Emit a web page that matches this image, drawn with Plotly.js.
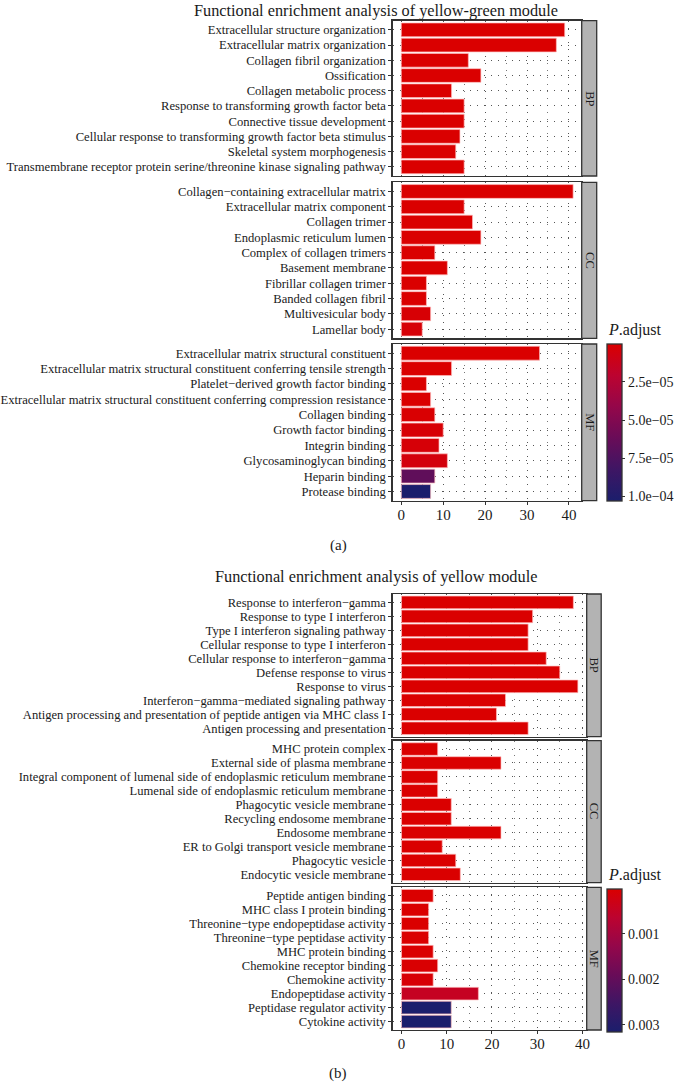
<!DOCTYPE html>
<html>
<head>
<meta charset="utf-8">
<script src="https://cdn.plot.ly/plotly-3.0.1.min.js"></script>
<style>html,body{margin:0;padding:0;background:#fff;}#chart{width:682px;height:1082px;}</style>
</head>
<body>
<div id="chart"></div>
<script>
// ---------------- DATA ----------------
const titleA = "Functional enrichment analysis of yellow-green module";
const titleB = "Functional enrichment analysis of yellow module";
const ontologies = ["BP", "CC", "MF"];
const captions = ["(a)", "(b)"];

const termsA_BP = ["Extracellular structure organization","Extracellular matrix organization","Collagen fibril organization","Ossification","Collagen metabolic process","Response to transforming growth factor beta","Connective tissue development","Cellular response to transforming growth factor beta stimulus","Skeletal system morphogenesis","Transmembrane receptor protein serine/threonine kinase signaling pathway"];
const countA_BP = [39, 37, 16, 19, 12, 15, 15, 14, 13, 15];
const padjA_BP = [1e-20, 1e-19, 1e-12, 1e-11, 1e-10, 1e-9, 1e-9, 1e-8, 1e-8, 2e-8];

const termsA_CC = ["Collagen−containing extracellular matrix","Extracellular matrix component","Collagen trimer","Endoplasmic reticulum lumen","Complex of collagen trimers","Basement membrane","Fibrillar collagen trimer","Banded collagen fibril","Multivesicular body","Lamellar body"];
const countA_CC = [41, 15, 17, 19, 8, 11, 6, 6, 7, 5];
const padjA_CC = [1e-25, 1e-14, 1e-14, 1e-12, 1e-9, 1e-8, 1e-7, 1e-7, 2e-6, 3e-6];

const termsA_MF = ["Extracellular matrix structural constituent","Extracellular matrix structural constituent conferring tensile strength","Platelet−derived growth factor binding","Extracellular matrix structural constituent conferring compression resistance","Collagen binding","Growth factor binding","Integrin binding","Glycosaminoglycan binding","Heparin binding","Protease binding"];
const countA_MF = [33, 12, 6, 7, 8, 10, 9, 11, 8, 7];
const padjA_MF = [1e-22, 1e-12, 1e-7, 1e-7, 1e-6, 2e-6, 3e-6, 5e-6, 6.6e-5, 1.03e-4];

const termsB_BP = ["Response to interferon−gamma","Response to type I interferon","Type I interferon signaling pathway","Cellular response to type I interferon","Cellular response to interferon−gamma","Defense response to virus","Response to virus","Interferon−gamma−mediated signaling pathway","Antigen processing and presentation of peptide antigen via MHC class I","Antigen processing and presentation"];
const countB_BP = [38, 29, 28, 28, 32, 35, 39, 23, 21, 28];
const padjB_BP = [1e-30, 1e-28, 1e-28, 1e-28, 1e-27, 1e-26, 1e-26, 1e-22, 1e-22, 1e-21];

const termsB_CC = ["MHC protein complex","External side of plasma membrane","Integral component of lumenal side of endoplasmic reticulum membrane","Lumenal side of endoplasmic reticulum membrane","Phagocytic vesicle membrane","Recycling endosome membrane","Endosome membrane","ER to Golgi transport vesicle membrane","Phagocytic vesicle","Endocytic vesicle membrane"];
const countB_CC = [8, 22, 8, 8, 11, 11, 22, 9, 12, 13];
const padjB_CC = [1e-9, 1e-8, 1e-8, 1e-8, 1e-7, 1e-7, 1e-6, 1e-6, 2e-6, 3e-6];

const termsB_MF = ["Peptide antigen binding","MHC class I protein binding","Threonine−type endopeptidase activity","Threonine−type peptidase activity","MHC protein binding","Chemokine receptor binding","Chemokine activity","Endopeptidase activity","Peptidase regulator activity","Cytokine activity"];
const countB_MF = [7, 6, 6, 6, 7, 8, 7, 17, 11, 11];
const padjB_MF = [1e-7, 1e-6, 2e-6, 5e-6, 1e-5, 3e-5, 6e-5, 4.5e-4, 3.15e-3, 3.15e-3];

const cbTicksA = [2.5e-5, 5.0e-5, 7.5e-5, 1.0e-4];
const cbTextA = ["2.5e−05", "5.0e−05", "7.5e−05", "1.0e−04"];
const cbMaxA = 1.03e-4;
const cbTicksB = [0.001, 0.002, 0.003];
const cbTextB = ["0.001", "0.002", "0.003"];
const cbMaxB = 3.15e-3;
const xTicks = [0, 10, 20, 30, 40];

// ---------------- LAYOUT HELPERS ----------------
const W = 682, H = 1082;
const FONT = "Liberation Serif, 'Times New Roman', serif";
const px = v => v / W;
const py = v => 1 - v / H;

const colorscale = [
  [0.0, "#1B1E6C"], [0.2, "#3E1664"], [0.4, "#690C58"],
  [0.6, "#94074A"], [0.8, "#BC0330"], [1.0, "#DA0000"]
];

const charts = [
  { panels: [[termsA_BP, countA_BP, padjA_BP], [termsA_CC, countA_CC, padjA_CC], [termsA_MF, countA_MF, padjA_MF]],
    ytops: [[20.7, 176], [182.3, 338.3], [344, 500.7]], xl: 392.7, xr: 581.7, strip: 15,
    xrange: [-2.05, 43.05], title: titleA, titleX: 376, titleY: 10,
    cb: { x: 607.3, top: 344, bot: 500.7, ticks: cbTicksA, text: cbTextA, max: cbMaxA }, cbTitleY: 330,
    caption: captions[0], capY: 545, coloraxis: "coloraxis" },
  { panels: [[termsB_BP, countB_BP, padjB_BP], [termsB_CC, countB_CC, padjB_CC], [termsB_MF, countB_MF, padjB_MF]],
    ytops: [[594, 736.7], [740.7, 882.7], [887.3, 1030]], xl: 392.7, xr: 586.7, strip: 14.5,
    xrange: [-1.95, 40.95], title: titleB, titleX: 376, titleY: 576,
    cb: { x: 606.7, top: 888.3, bot: 1031.7, ticks: cbTicksB, text: cbTextB, max: cbMaxB }, cbTitleY: 875,
    caption: captions[1], capY: 1073, coloraxis: "coloraxis2" }
];

const data = [];
const layout = {
  width: W, height: H, margin: { l: 0, r: 0, t: 0, b: 0 },
  paper_bgcolor: "#fff", plot_bgcolor: "#fff",
  showlegend: false, bargap: 0.1,
  font: { family: FONT, color: "#1a1a1a" },
  shapes: [], annotations: []
};

let n = 0;
charts.forEach((c, ci) => {
  c.panels.forEach((p, pi) => {
    n++;
    const sfx = n === 1 ? "" : String(n);
    const [cats, vals, padj] = p;
    data.push({
      type: "bar", orientation: "h",
      x: vals, y: cats,
      xaxis: "x" + sfx, yaxis: "y" + sfx,
      marker: { color: padj.map(v => -v), coloraxis: c.coloraxis,
                line: { color: "rgba(255,190,190,0.85)", width: 0.8 } },
      hoverinfo: "x+y"
    });
    const [top, bot] = c.ytops[pi];
    const isBottom = pi === 2;
    layout["xaxis" + sfx] = {
      domain: [px(c.xl), px(c.xr)], anchor: "y" + sfx,
      range: c.xrange, autorange: false,
      tickmode: "array", tickvals: xTicks, showticklabels: isBottom,
      ticks: isBottom ? "outside" : "", ticklen: 3, tickcolor: "#333",
      ticklabelstandoff: -3,
      tickfont: { family: FONT, size: 15, color: "#1a1a1a" },
      showline: true, mirror: true, linecolor: "#333", linewidth: 1.3,
      showgrid: true, gridcolor: "#555", gridwidth: 1, griddash: "1px,6px",
      minor: { tickvals: [5, 15, 25, 35], showgrid: true, gridcolor: "#777", gridwidth: 1, griddash: "1px,6px" },
      zeroline: false, fixedrange: true
    };
    layout["yaxis" + sfx] = {
      domain: [py(bot), py(top)], anchor: "x" + sfx,
      type: "category", categoryorder: "array", categoryarray: cats,
      tickmode: "linear", tick0: 0, dtick: 1,
      range: [cats.length - 0.4, -0.6], autorange: false,
      ticks: "outside", ticklen: 3, tickcolor: "#333",
      tickfont: { family: FONT, size: 12.6, color: "#1a1a1a" },
      showline: true, mirror: true, linecolor: "#333", linewidth: 1.3,
      showgrid: true, gridcolor: "#555", gridwidth: 1, griddash: "1px,6px",
      zeroline: false, fixedrange: true
    };
    // strip
    layout.shapes.push({
      type: "rect", xref: "paper", yref: "paper",
      x0: px(c.xr), x1: px(c.xr + c.strip), y0: py(bot), y1: py(top),
      fillcolor: "#B3B3B3", line: { color: "#333", width: 1.3 }
    });
    layout.annotations.push({
      xref: "paper", yref: "paper", x: px(c.xr + c.strip / 2), y: py((top + bot) / 2),
      xanchor: "center", yanchor: "middle",
      text: ontologies[pi], textangle: 90, showarrow: false,
      font: { family: FONT, size: 12.5, color: "#1a1a1a" }
    });
  });
  // title
  layout.annotations.push({
    xref: "paper", yref: "paper", x: px(c.titleX), y: py(c.titleY),
    text: c.title, showarrow: false, xanchor: "center", yanchor: "middle",
    font: { family: FONT, size: 16.3, color: "#1a1a1a" }
  });
  // caption
  layout.annotations.push({
    xref: "paper", yref: "paper", x: px(338), y: py(c.capY),
    text: c.caption, showarrow: false, xanchor: "center", yanchor: "middle",
    font: { family: FONT, size: 15, color: "#1a1a1a" }
  });
  // colorbar title
  layout.annotations.push({
    xref: "paper", yref: "paper", x: px(c.cb.x - 1), y: py(c.cbTitleY),
    text: "<i>P</i>.adjust", showarrow: false, xanchor: "left", yanchor: "middle",
    font: { family: FONT, size: 16, color: "#1a1a1a" }
  });
  layout[c.coloraxis] = {
    cmin: -c.cb.max, cmax: 0, colorscale: colorscale,
    colorbar: {
      x: px(c.cb.x), xanchor: "left", y: py((c.cb.top + c.cb.bot) / 2), yanchor: "middle",
      len: c.cb.bot - c.cb.top, lenmode: "pixels", thickness: 15, thicknessmode: "pixels",
      xpad: 0, ypad: 0,
      outlinewidth: 1.3, outlinecolor: "#333",
      tickvals: c.cb.ticks.map(v => -v), ticktext: c.cb.text,
      ticks: "outside", ticklen: 3, tickcolor: "#333",
      tickfont: { family: FONT, size: 14, color: "#1a1a1a" }
    }
  };
});

Plotly.newPlot("chart", data, layout, { displayModeBar: false, staticPlot: true });
</script>
</body>
</html>
